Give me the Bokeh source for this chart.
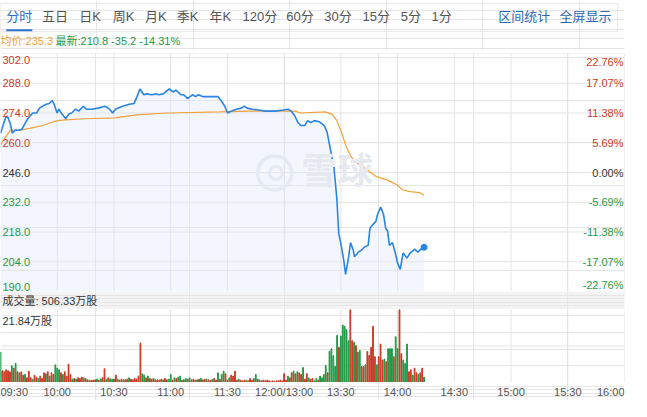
from bokeh.plotting import figure
from bokeh.layouts import column
from bokeh.models import Range1d, Label
from bokeh.core.properties import value
from bokeh.embed import file_html
from bokeh.resources import INLINE

# ---------------- data ----------------
tabs = ["分时", "五日", "日K", "周K", "月K", "季K", "年K", "120分", "60分", "30分", "15分", "5分", "1分"]
tool_labels = ["区间统计", "全屏显示"]

time_ticks = [0, 30, 60, 90, 120, 150, 180, 210, 240, 270, 300, 330]
time_labels = ["09:30", "10:00", "10:30", "11:00", "11:30", "12:00/13:00",
               "13:30", "14:00", "14:30", "15:00", "15:30", "16:00"]

price_ticks = [302.0, 288.0, 274.0, 260.0, 246.0, 232.0, 218.0, 204.0, 190.0]
pct_labels = ["22.76%", "17.07%", "11.38%", "5.69%", "0.00%", "-5.69%", "-11.38%", "-17.07%", "-22.76%"]
prev_close = 246.0
avg_price = 235.3
last_price = 210.8
change = -35.2
change_pct = -14.31
total_volume = "506.33万股"
vol_max = 21.84

# minutes since 09:30 (lunch break collapsed)
price_min = [0, 2.6, 3.6, 5.2, 6.2, 7.7, 9.3, 11.3, 12.9, 14.4,
             17.0, 19.1, 20.6, 22.2, 24.2, 25.8, 27.3, 28.4, 29.9, 30.9,
             32.5, 34.5, 36.1, 37.6, 39.7, 41.3, 43.8, 45.4, 48.0, 51.6,
             55.2, 57.7, 59.3, 60.8, 64.5, 68.1, 70.6, 72.2, 73.7, 75.8,
             77.3, 79.9, 82.5, 83.5, 86.1, 89.2, 91.3, 92.8, 95.4, 96.9,
             99.0, 101.6, 103.1, 104.7, 107.2, 110.9, 115.0, 117.0, 118.6, 120.1,
             122.2, 124.8, 127.4, 128.9, 130.4, 133.0, 136.6, 140.2, 145.4, 149.5,
             152.1, 153.7, 155.7, 157.3, 158.8, 160.9, 162.4, 164.0, 166.0, 168.6,
             171.2, 172.7, 174.3, 176.3, 177.9, 178.9, 179.9, 181.5, 182.5, 184.1,
             185.1, 186.6, 187.2, 189.2, 190.8, 192.3, 194.4, 195.4, 197.0, 198.5,
             199.5, 201.1, 202.6, 203.7, 204.7, 205.7, 207.3, 208.8, 209.9, 211.4,
             212.9, 215.0, 216.6, 219.1, 220.7, 222.8, 224.0]
price_val = [264.5, 271.7, 272.6, 269.0, 264.5, 265.9, 265.9, 266.3, 269.0, 271.3,
             274.0, 274.0, 276.3, 277.2, 278.1, 278.5, 279.9, 278.1, 274.0, 275.8,
             273.5, 271.3, 273.5, 274.0, 275.8, 274.9, 277.2, 275.8, 275.8, 276.3,
             277.2, 275.8, 274.0, 275.8, 277.2, 278.1, 278.5, 281.7, 285.3, 282.6,
             283.0, 282.6, 283.0, 282.6, 283.0, 285.3, 283.9, 284.8, 282.6, 282.6,
             280.8, 282.6, 281.7, 282.6, 281.7, 281.7, 281.7, 279.4, 277.2, 274.0,
             274.9, 275.8, 276.3, 277.2, 276.3, 275.8, 275.4, 274.9, 274.9, 275.4,
             275.8, 274.9, 272.6, 269.5, 268.1, 268.1, 270.4, 269.5, 270.4, 269.9,
             268.1, 265.0, 257.7, 248.7, 233.4, 217.1, 213.0, 204.9, 198.1, 206.3,
             213.0, 209.4, 206.3, 208.5, 209.4, 210.8, 211.7, 219.8, 221.6, 223.0,
             226.6, 229.7, 226.1, 219.8, 218.5, 211.7, 213.0, 208.1, 203.6, 200.4,
             208.1, 205.8, 208.1, 209.9, 208.5, 210.3, 210.8]

avg_min = [0, 5.2, 10.3, 15.5, 22.2, 29.9, 34.5, 44.9, 60.3, 72.2,
           77.3, 88.7, 116.0, 131.5, 155.7, 158.8, 171.7, 175.3, 177.9, 180.5,
           183.0, 185.6, 189.2, 194.4, 198.5, 204.7, 209.9, 212.4, 216.6, 221.7, 224.0]
avg_val = [259.1, 265.9, 265.9, 266.8, 268.1, 270.4, 270.8, 271.3, 271.7, 273.1,
           273.5, 274.0, 274.5, 274.9, 274.9, 274.0, 274.5, 273.5, 270.4, 264.5,
           257.7, 253.2, 250.1, 246.9, 244.2, 242.4, 240.1, 237.9, 237.0, 236.5, 235.3]

# per-minute volume (万股) and direction (u = up / d = down)
volume = [9.1, 3.5, 3.2, 3.8, 3.5, 3.2, 5.0, 4.3, 5.7, 3.2, 2.9, 3.2, 2.2, 2.4,
          1.4, 3.4, 1.4, 1.0, 2.2, 1.6, 1.2, 1.9, 1.2, 2.9, 2.6, 3.2, 1.9, 2.9,
          2.4, 5.3, 4.3, 3.8, 2.9, 2.4, 3.2, 1.9, 5.5, 2.4, 1.0, 1.2, 1.0, 1.4,
          1.2, 1.6, 1.4, 1.2, 0.8, 0.7, 0.7, 0.7, 0.8, 1.0, 0.7, 1.1, 1.4, 4.1,
          1.0, 1.4, 1.1, 1.0, 1.0, 2.2, 1.0, 0.7, 1.0, 0.8, 0.8, 1.0, 1.4, 1.0,
          0.8, 1.2, 1.0, 1.9, 11.8, 2.6, 2.2, 1.4, 1.9, 1.2, 1.0, 1.2, 0.8, 0.8,
          0.7, 1.0, 0.8, 1.2, 0.8, 1.0, 2.4, 0.7, 1.4, 1.2, 1.6, 1.9, 0.7, 0.8,
          1.2, 1.0, 1.4, 0.8, 1.0, 0.7, 0.8, 1.0, 1.2, 0.8, 1.0, 1.0, 0.8, 0.6,
          0.9, 1.2, 0.7, 2.9, 1.0, 2.4, 3.4, 2.6, 0.7, 1.4, 2.2, 1.9, 3.4, 0.7,
          1.0, 0.7, 0.5, 0.7, 0.7, 0.5, 1.2, 0.7, 1.2, 2.4, 1.0, 0.8, 0.5, 0.7,
          0.5, 0.7, 0.5, 0.3, 0.5, 0.3, 0.5, 0.5, 0.7, 0.5,
          2.6, 0.7, 1.9, 1.4, 2.9, 3.4, 2.6, 3.2, 2.9, 2.4, 4.5, 1.0, 2.6, 1.4,
          1.0, 1.2, 0.5, 1.2, 0.7, 1.9, 1.4, 2.4, 5.1, 2.9, 9.3, 10.1, 8.0, 4.8,
          14.1, 10.5,
          13.9, 17.2, 16.8, 15.8, 12.5, 21.84, 12.5, 12.0, 11.0, 9.1, 9.6, 4.8, 4.8, 5.3,
          9.3, 8.1, 10.5, 16.8, 7.7, 5.3, 7.7, 11.5, 6.7, 7.0, 6.2, 10.1, 10.1, 10.1,
          7.7, 13.7, 10.1, 21.84, 8.6, 6.7, 5.7, 11.5, 3.2, 3.8, 2.2, 4.3, 2.9, 2.4, 2.9, 4.3, 1.6]
vol_dir = ("duuuuudududuud" "uuuduuduuududu" "uddduduuuududu" "uuduuduuududuu"
           "dudduuduuduudu" "uuuuudduduuduu" "uuduuddududdud" "dudduududuuduu"
           "duududduuduuuu" "duuuduuudduduu" "uuuuuuuuuu" "uuduududuuduud"
           "uudduddddudddd" "du" "ddddduududduud" "uuuuuduuududdd" "udduuddduuduuduud")

# ---------------- styling ----------------
W = 631
FONT_NAME = "Liberation Sans, Noto Sans CJK SC"
FONT = value(FONT_NAME)
RED = "#c93a26"
GREEN = "#1f9a45"
GRAY_TXT = "#333333"
GRID = "#e3e3e3"
BLUE = "#2a84e2"
ORANGE = "#f0a23a"


def base(height, x_range, y_range, top=0, right=7, **kw):
    f = figure(width=W, height=height, x_range=x_range, y_range=y_range,
               output_backend="svg", toolbar_location=None,
               x_axis_location=None, y_axis_location=None,
               min_border_left=0, min_border_right=right,
               min_border_top=top, min_border_bottom=0, **kw)
    f.outline_line_color = None
    return f


def add_grid(f, xs, ys, y_lo, y_hi, x_lo=0, x_hi=330):
    if xs:
        f.segment(x0=xs, y0=[y_lo] * len(xs), x1=xs, y1=[y_hi] * len(xs),
                  line_color=GRID, line_width=1)
    if ys:
        f.segment(x0=[x_lo] * len(ys), y0=ys, x1=[x_hi] * len(ys), y1=ys,
                  line_color=GRID, line_width=1)


xr = Range1d(0, 330)

# ---------------- header ----------------
hdr = base(50, Range1d(0, 647), Range1d(52, 0), right=0)
hdr.quad(left=0, right=640, top=3, bottom=32, fill_color=None, line_color="#e6e6e6")
tab_cx = [19.5, 56.5, 93, 127.5, 161, 194, 228, 269, 310.5, 350, 389.5, 425.5, 457.5]
tab_colors = ["#2f6fc2"] + ["#555555"] * (len(tabs) - 1)
hdr.text(x=tab_cx, y=[17] * len(tabs), text=tabs, text_align="center", text_baseline="middle",
         text_font=FONT, text_font_size="13px", text_color=tab_colors)
hdr.text(x=[543, 606.5], y=[17, 17], text=tool_labels, text_align="center", text_baseline="middle",
         text_font=FONT, text_font_size="13px", text_color="#2d68b6")
hdr.segment(x0=[6], y0=[31], x1=[33], y1=[31], line_color="#2f73c8", line_width=2)
hdr.text(x=[0], y=[42], text=[f"均价:{avg_price}"], text_align="left", text_baseline="middle",
         text_font=FONT, text_font_size="11px", text_color=ORANGE)
hdr.text(x=[57], y=[42], text=[f"最新:{last_price} {change} {change_pct}%"], text_align="left",
         text_baseline="middle", text_font=FONT, text_font_size="11px", text_color=GREEN)

# ---------------- price chart ----------------
pf = base(241, xr, Range1d(190, 302), top=3)
add_grid(pf, time_ticks[1:], price_ticks, 190, 302)

# watermark
pf.scatter(x=[145], y=[245.8], size=34, marker="circle", fill_color=None,
           line_color="#e6e9ef", line_width=3.5)
pf.scatter(x=[145.6], y=[245.8], size=13, marker="circle", fill_color=None,
           line_color="#e6e9ef", line_width=3)
pf.add_layout(Label(x=159, y=246.4, text="雪球", text_align="left", text_baseline="middle",
                    text_font=FONT_NAME, text_font_size="36px", text_font_style="bold",
                    text_color="#e6e9ef"))

pf.varea(x=price_min, y1=190, y2=price_val, fill_color="#e2ebfb", fill_alpha=0.4)
pf.line(avg_min, avg_val, line_color=ORANGE, line_width=1.2)
pf.line(price_min, price_val, line_color=BLUE, line_width=1.6)
pf.scatter([price_min[-1]], [price_val[-1]], size=6, color=BLUE)


def tcolor(v):
    return RED if v > prev_close else (GRAY_TXT if v == prev_close else GREEN)


for idxs, base_line, yoff in (([0], "top", 2), (list(range(1, len(price_ticks) - 1)), "middle", 0),
                              ([len(price_ticks) - 1], "bottom", -1)):
    ys = [price_ticks[i] for i in idxs]
    cols = [tcolor(price_ticks[i]) for i in idxs]
    pf.text(x=[0] * len(idxs), y=ys, text=[f"{price_ticks[i]:.1f}" for i in idxs],
            x_offset=2, y_offset=yoff, text_align="left", text_baseline=base_line,
            text_font=FONT, text_font_size="11px", text_color=cols)
    pf.text(x=[330] * len(idxs), y=ys, text=[pct_labels[i] for i in idxs],
            x_offset=-1, y_offset=yoff, text_align="right", text_baseline=base_line,
            text_font=FONT, text_font_size="11px", text_color=cols)

# ---------------- volume title band ----------------
bf = base(18, xr, Range1d(0, 1), background_fill_color="#f4f4f4")
bf.text(x=[0], y=[0.5], text=[f"成交量: {total_volume}"], x_offset=2, text_align="left",
        text_baseline="middle", text_font=FONT, text_font_size="11px", text_color=GRAY_TXT)

# ---------------- volume chart ----------------
vf = base(73, xr, Range1d(0, vol_max))
add_grid(vf, time_ticks[1:], [0, vol_max / 2], 0, vol_max)
minutes = list(range(len(volume)))
bar_colors = [RED if (vol_dir[i] if i < len(vol_dir) else "u") == "u" else GREEN for i in minutes]
vf.vbar(x=minutes, top=volume, width=0.42, color=bar_colors)
vf.text(x=[0], y=[vol_max], text=[f"{vol_max}万股"], x_offset=2, y_offset=5, text_align="left",
        text_baseline="top", text_font=FONT, text_font_size="11px", text_color=GRAY_TXT)

# ---------------- time labels ----------------
xf = base(18, xr, Range1d(0, 1))
n = len(time_ticks)
for idxs, al in (([0], "left"), (list(range(1, n - 1)), "center"), ([n - 1], "right")):
    xf.text(x=[time_ticks[i] for i in idxs], y=[0.5] * len(idxs), text=[time_labels[i] for i in idxs],
            text_align=al, text_baseline="middle", text_font=FONT, text_font_size="11px",
            text_color="#555555")

layout = column(hdr, pf, bf, vf, xf, spacing=0)
open("out.html", "w").write(file_html(layout, INLINE))
